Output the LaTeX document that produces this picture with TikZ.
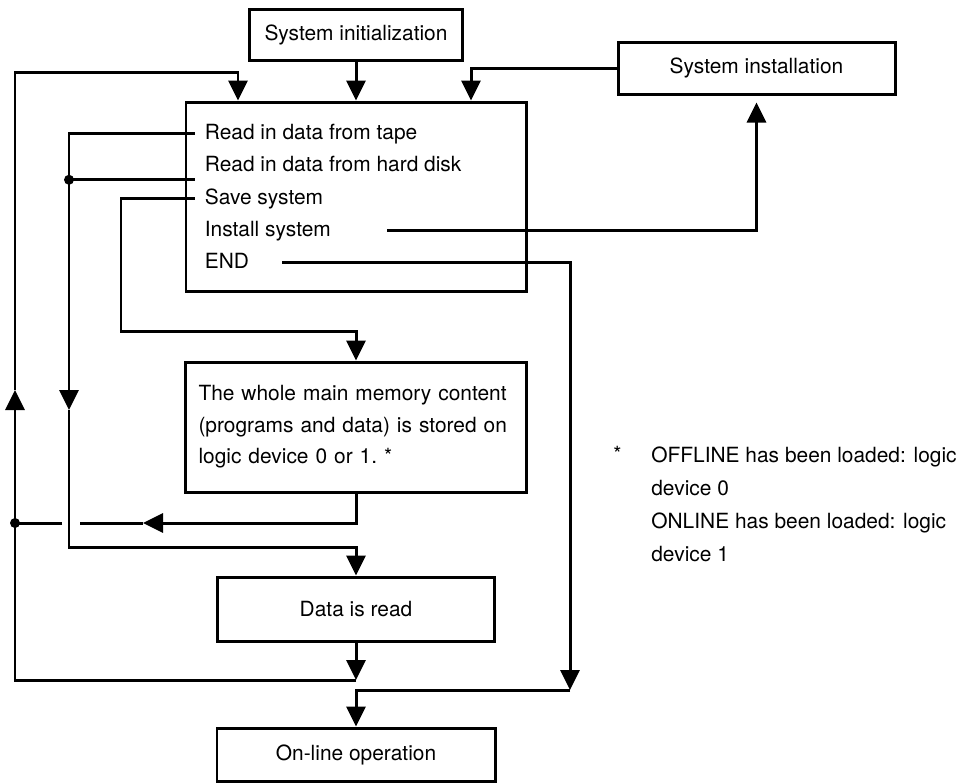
\documentclass[tikz,border=0pt]{standalone}
\usepackage{fontspec}
\setmainfont{TeX Gyre Heros}
\usetikzlibrary{arrows.meta}
\tikzstyle{process} = [rectangle, draw, line width=1.7pt, text centered]
\tikzstyle{item} = [anchor=west, inner sep=0pt, text height=1.75ex, text depth=0.45ex]
\tikzstyle{arrow} = [line width=1.7pt, -{Triangle[length=0.4cm, width=0.38cm]}]
\tikzstyle{link} = [line width=1.7pt]

\begin{document}
\begin{tikzpicture}[node distance=3cm, font=\fontsize{11.9pt}{18.8pt}\selectfont]

\useasboundingbox (0,0) rectangle (19.32,-15.66);

\node (Init) [process, minimum width=4.26cm, minimum height=1.02cm] at (7.12,-0.69) {System initialization};

\node (Menu) [process, below of=Init, yshift=-0.24cm, minimum width=6.8cm, minimum height=3.78cm] {};

\node (itape) [item] at ([xshift=0.4cm, yshift=-0.66cm]Menu.north west) {Read in data from tape};
\node (idisk) [item] at ([yshift=-0.645cm]itape.west) {Read in data from hard disk};
\node (isave) [item] at ([yshift=-0.645cm]idisk.west) {Save system};
\node (iinst) [item] at ([yshift=-0.645cm]isave.west) {Install system};
\node (iend) [item] at ([yshift=-0.645cm]iinst.west) {END};

\node (Inst) [process, minimum width=5.54cm, minimum height=1.04cm] at (15.13,-1.36) {System installation};

\node (Mem) [process, below of=Menu, yshift=-1.61cm, minimum width=6.82cm, minimum height=2.6cm, text width=6.3cm, align=left, font=\fontsize{11.9pt}{17.9pt}\selectfont] {The whole main memory content\\(programs and data) is stored on\\logic device 0 or 1.\ *};

\node (Read) [process, below of=Mem, yshift=-0.64cm, minimum width=5.54cm, minimum height=1.28cm] {Data is read};

\node (Run) [process, below of=Read, yshift=0.09cm, minimum width=5.56cm, minimum height=1.06cm] {On-line operation};

\node (star) [item] at (12.26,-9.1) {*};
\node (note) [anchor=west, align=left, inner sep=0pt] at (13.02,-10.09) {OFFLINE has been loaded: logic\\device 0\\ONLINE has been loaded: logic\\device 1};

% bends of the connectors
\coordinate (topl) at (4.76,-1.44);
\coordinate (topr) at (9.42,-1.38);
\coordinate (looptl) at (0.3,-1.44);
\coordinate (loopup) at (0.3,-7.8);
\coordinate (loopdot) at (0.3,-10.46);
\coordinate (loopbl) at (0.3,-13.6);
\coordinate (readout) at (7.12,-13.6);
\coordinate (tapedown) at (1.38,-8.2);
\coordinate (tapelow) at (1.38,-10.94);
\coordinate (savelow) at (2.42,-6.62);
\coordinate (memout) at (7.12,-10.46);
\coordinate (memtip) at (2.86,-10.46);
\coordinate (gapr) at (1.6,-10.46);
\coordinate (gapl) at (1.24,-10.46);
\coordinate (endlow) at (11.4,-13.8);
\coordinate (diskline) at ([xshift=-0.2cm, yshift=-0.28cm]idisk.west);

\draw [arrow] (Init) -- (Menu);
\draw [arrow] (Inst.west) -| (topr |- Menu.north);

\draw [arrow] (Read) -- (readout);
\draw [arrow] (readout) -- (loopbl) -- (loopup);
\draw [arrow] (loopup) -- (looptl) -| (topl |- Menu.north);

\draw [arrow] ([xshift=-0.2cm]itape.west) -| (tapedown);
\draw [arrow] (tapedown) -- (tapelow) -- (tapelow -| Read.north) -- (Read.north);

\draw [link] (diskline) -- (diskline -| tapedown);
\fill (diskline -| tapedown) circle (0.1cm);

\draw [arrow] ([xshift=-0.2cm]isave.west) -| (savelow) -- (savelow -| Mem.north) -- (Mem.north);

\draw [arrow] (Mem) -- (memout) -- (memtip);
\draw [link] (memtip) -- (gapr);
\draw [link] (gapl) -- (loopdot);
\fill (loopdot) circle (0.1cm);

\draw [arrow, shorten >=0.14cm] ([xshift=1.12cm]iinst.east) -| (Inst.south);

\draw [arrow] ([xshift=0.66cm]iend.east) -| (endlow);
\draw [arrow] (endlow) -| (Run.north);

\end{tikzpicture}
\end{document}
